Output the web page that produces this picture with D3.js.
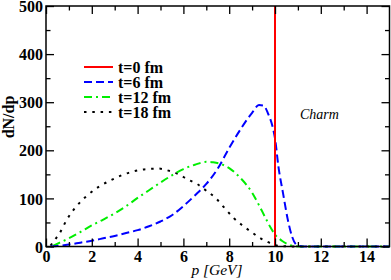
<!DOCTYPE html>
<html>
<head>
<meta charset="utf-8">
<script src="https://cdn.jsdelivr.net/npm/d3@7"></script>
<style>
body { margin: 0; background: #fff; }
svg { display: block; }
</style>
</head>
<body>
<div id="vis"></div>
<script>
var w = 391;
var h = 280;
var mL = 46, mR = 389.5, mT = 6, mB = 246.5;
var serif = "'Liberation Serif'";

// t=0 fm : delta at p=10
var pRed = [10, 10];
var vRed = [0, 500];

// t=6 fm
var pBlue = [0.2, 0.5, 1.0, 1.5, 2.0, 2.5, 3.0, 3.5, 4.0, 4.5, 5.0, 5.5, 6.0, 6.5, 7.0, 7.5, 8.0, 8.5, 9.0, 9.3, 9.5, 9.7, 9.9, 10.0, 10.15, 10.35, 10.55, 10.75, 10.95, 11.2, 15];
var vBlue = [0, 1, 4, 8, 12, 17, 22, 28, 34, 42, 52, 65, 84, 106, 130, 162, 205, 244, 278, 294, 293, 276, 248, 225, 166, 111, 58, 20, 3, 0, 0];

// t=12 fm
var pGreen = [0.3, 0.6, 1.0, 1.5, 2.0, 2.5, 3.0, 3.5, 4.0, 4.5, 5.0, 5.5, 6.0, 6.5, 7.0, 7.3, 7.6, 8.0, 8.5, 9.0, 9.3, 9.6, 9.8, 10.0, 10.3, 10.6, 10.9, 11.2, 15];
var vGreen = [1, 8, 17, 30, 44, 56, 69, 84, 101, 117, 133, 148, 161, 170, 176, 175, 172, 163, 142, 112, 86, 58, 40, 25, 12, 4, 0.5, 0, 0];

// t=18 fm
var pBlack = [0.2, 0.4, 0.6, 0.9, 1.3, 1.8, 2.3, 2.8, 3.3, 3.8, 4.4, 4.9, 5.4, 5.8, 6.2, 6.6, 7.0, 7.4, 7.8, 8.2, 8.6, 9.0, 9.4, 9.7, 10.0, 10.4, 10.8, 15];
var vBlack = [2, 15, 28, 55, 82, 106, 124, 137, 148, 156, 161, 162, 157, 150, 139, 130, 116, 101, 80, 59, 43, 29, 16, 9, 3, 0.5, 0, 0];

var xMajor = [0, 2, 4, 6, 8, 10, 12, 14];
var yMajor = [0, 100, 200, 300, 400, 500];

var series = [
	{name: "t=0 fm", p: pRed, v: vRed, color: "#ff0000", dash: null},
	{name: "t=6 fm", p: pBlue, v: vBlue, color: "#0000ff", dash: "8,4"},
	{name: "t=12 fm", p: pGreen, v: vGreen, color: "#00ee00", dash: "8,4,2,4"},
	{name: "t=18 fm", p: pBlack, v: vBlack, color: "#000000", dash: "2.5,5.8"}
];

var svg = d3.select("#vis")
	.append("svg")
	.attr("width", w)
	.attr("height", h);

var x = d3.scaleLinear().domain([0, 15]).range([mL, mR]);
var y = d3.scaleLinear().domain([0, 500]).range([mB, mT]);

var line = d3.line()
	.x(function(d) { return x(d[0]); })
	.y(function(d) { return y(d[1]); })
	.curve(d3.curveMonotoneX);

var straight = d3.line()
	.x(function(d) { return x(d[0]); })
	.y(function(d) { return y(d[1]); });

// curves (drawn before the frame)
var plot = svg.append("g");
series.slice().reverse().forEach(function(s) {
	var pts = s.p.map(function(p, i) { return [p, s.v[i]]; });
	plot.append("path")
		.attr("d", s.p[0] == s.p[1] ? straight(pts) : line(pts))
		.attr("fill", "none")
		.attr("stroke", s.color)
		.attr("stroke-width", 2)
		.attr("stroke-dasharray", s.dash);
});

// ticks, all pointing inwards
function ticks(axis, pos, vals, len, labels) {
	var g = svg.append("g")
		.attr("transform", pos)
		.call(axis.tickValues(vals).tickSize(len).tickFormat(labels ? d3.format("d") : ""));
	g.attr("font-family", null).attr("font-size", null);
	g.select(".domain").remove();
	g.selectAll("line").attr("stroke", "#000").attr("stroke-width", 1.3);
	g.selectAll("text")
		.style("font-family", serif)
		.style("font-weight", "bold")
		.style("font-size", "16px")
		.attr("fill", "#000");
	return g;
}
var xMinor = d3.range(1, 15, 2);
var yMinor = d3.range(50, 500, 100);

ticks(d3.axisBottom(x), "translate(0," + mB + ")", xMajor, -8, true)
	.selectAll("text").attr("y", 4).attr("dy", "0.71em");
ticks(d3.axisBottom(x), "translate(0," + mB + ")", xMinor, -4.5, false);
ticks(d3.axisTop(x), "translate(0," + mT + ")", xMajor, -8, false);
ticks(d3.axisTop(x), "translate(0," + mT + ")", xMinor, -4.5, false);
ticks(d3.axisLeft(y), "translate(" + mL + ",0)", yMajor, -8, true)
	.selectAll("text").attr("x", -3).attr("dy", "0.35em");
ticks(d3.axisLeft(y), "translate(" + mL + ",0)", yMinor, -4.5, false);
ticks(d3.axisRight(y), "translate(" + mR + ",0)", yMajor, -8, false);
ticks(d3.axisRight(y), "translate(" + mR + ",0)", yMinor, -4.5, false);

// frame
svg.append("rect")
	.attr("x", mL)
	.attr("y", mT)
	.attr("width", mR - mL)
	.attr("height", mB - mT)
	.attr("fill", "none")
	.attr("stroke", "#000")
	.attr("stroke-width", 1.5);

// axis titles
svg.append("text")
	.text("dN/dp")
	.attr("transform", "translate(14,117) rotate(-90)")
	.attr("text-anchor", "middle")
	.style("font-family", serif)
	.style("font-weight", "bold")
	.style("font-size", "16px");

svg.append("text")
	.text("p [GeV]")
	.attr("x", 217)
	.attr("y", 275)
	.attr("text-anchor", "middle")
	.style("font-family", serif)
	.style("font-style", "italic")
	.style("font-size", "15.5px");

svg.append("text")
	.text("Charm")
	.attr("x", 300)
	.attr("y", 119)
	.style("font-family", serif)
	.style("font-style", "italic")
	.style("font-size", "14px");

// legend
var leg = svg.append("g").attr("transform", "translate(84,67)");
series.forEach(function(s, i) {
	leg.append("line")
		.attr("x1", 0)
		.attr("x2", 29)
		.attr("y1", i * 15)
		.attr("y2", i * 15)
		.attr("stroke", s.color)
		.attr("stroke-width", 2)
		.attr("stroke-dasharray", s.dash);
	leg.append("text")
		.text(s.name)
		.attr("x", 34)
		.attr("y", i * 15 + 5.5)
		.style("font-family", serif)
		.style("font-weight", "bold")
		.style("font-size", "16px");
});
</script>
</body>
</html>
